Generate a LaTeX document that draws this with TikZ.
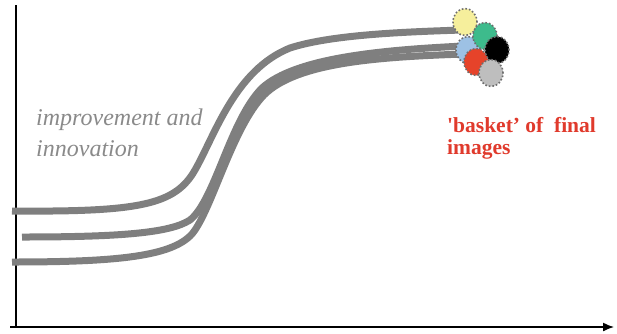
\documentclass[tikz,border=0pt]{standalone}
\usepackage{fontspec}
\setmainfont{Liberation Serif}
\newfontfamily\plainserif{Liberation Serif}[Ligatures=TeXOff]
\usetikzlibrary{arrows.meta,shapes.geometric}
\definecolor{curvegray}{HTML}{7F7F7F}
\definecolor{textgray}{HTML}{8A8A8A}
\definecolor{labelred}{HTML}{E03A2C}
\definecolor{cyellow}{HTML}{F6EF9C}
\definecolor{cgreen}{HTML}{3DBB8C}
\definecolor{cblue}{HTML}{9DC1E4}
\definecolor{cred}{HTML}{E6432A}
\definecolor{cgray}{HTML}{BEBEBE}
\definecolor{dotborder}{HTML}{6E6E6E}
\tikzset{
  curve/.style={draw=curvegray, line width=7pt},
  axis/.style={draw=black, line width=1.4pt},
  blob/.style={ellipse, minimum width=24pt, minimum height=27pt, inner sep=0pt,
    draw=dotborder, dotted, line width=1.6pt},
}
\begin{document}
\begin{tikzpicture}[x=1pt,y=-1pt]
\useasboundingbox (0,0) rectangle (617,333);
% axes
\coordinate (ytop) at (16,5);
\coordinate (origin) at (16,327);
\coordinate (xleft) at (10,327);
\coordinate (xend) at (614,327);
\draw[axis] (ytop) -- (origin);
\draw[axis,-{Latex[length=11pt,width=9pt]}] (xleft) -- (xend);
% curves
\draw[curve] (12,211) .. controls (140,212) and (175,205) .. (195,170)
  .. controls (215,135) and (235,70) .. (290,48)
  .. controls (330,35) and (400,32) .. (462,30);
\draw[curve] (22,237) .. controls (120,237) and (170,233) .. (190,220)
  .. controls (215,200) and (230,120) .. (262,88)
  .. controls (295,58) and (380,50) .. (464,46);
\draw[curve] (12,262) .. controls (120,262) and (172,256) .. (192,234)
  .. controls (212,210) and (232,128) .. (264,95)
  .. controls (297,62) and (380,57) .. (464,54);
% basket of images
\node[blob, fill=cblue] (bblue) at (468,50) {};
\node[blob, fill=cyellow] (byellow) at (465,22) {};
\node[blob, fill=cgreen] (bgreen) at (485,36) {};
\node[blob, fill=black] (bblack) at (497,50) {};
\node[blob, fill=cred] (bred) at (476,62) {};
\node[blob, fill=cgray] (bgray) at (491,73) {};
% texts
\node[anchor=base west, inner sep=0pt, align=left, text=textgray,
  font=\fontsize{24}{31}\selectfont\itshape] (improve) at (36,156)
  {improvement and\\innovation};
\node[anchor=base west, inner sep=0pt, align=left, text=labelred,
  font=\fontsize{21.5}{21.5}\selectfont\plainserif\bfseries] (basket) at (447,154)
  {'basket’ of\ \ final\\images};
\end{tikzpicture}
\end{document}
